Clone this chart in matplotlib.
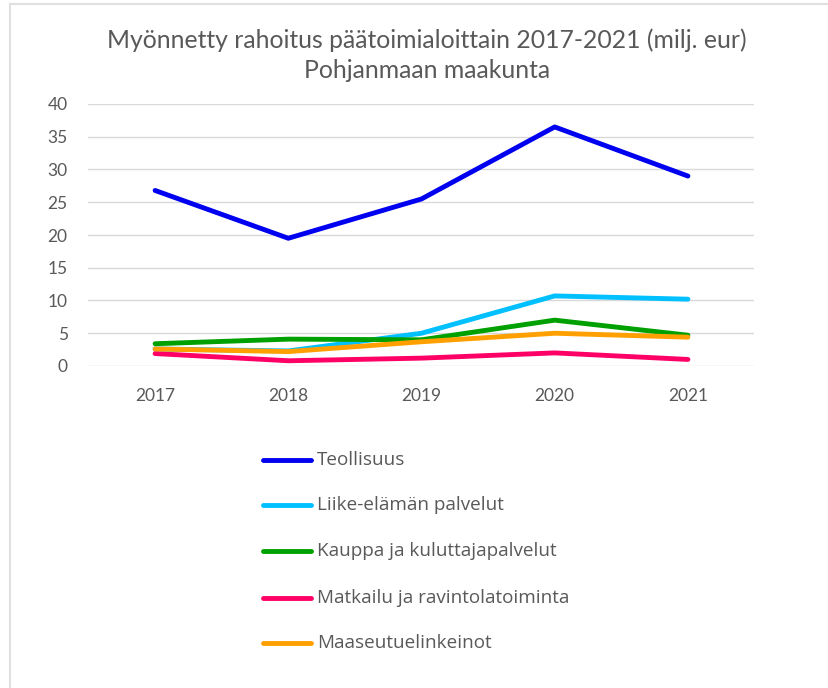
import matplotlib
matplotlib.use('Agg')
from matplotlib import pyplot as plt
from matplotlib.lines import Line2D

# Data
years = [2017, 2018, 2019, 2020, 2021]
teollisuus = [26.8, 19.5, 25.5, 36.5, 29.0]
liike = [2.6, 2.3, 5.0, 10.7, 10.2]
kauppa = [3.4, 4.1, 4.0, 7.0, 4.7]
matkailu = [1.9, 0.8, 1.2, 2.0, 1.0]
maaseutu = [2.6, 2.2, 3.7, 5.0, 4.4]

series_names = ['Teollisuus', 'Liike-elämän palvelut', 'Kauppa ja kuluttajapalvelut',
                'Matkailu ja ravintolatoiminta', 'Maaseutuelinkeinot']
series = [teollisuus, liike, kauppa, matkailu, maaseutu]
colors = ['#0000f0', '#00c0ff', '#00a000', '#ff0066', '#ffa000']
# drawing order so that overlaps look like the original
draw_order = [1, 3, 4, 2, 0]

text_col = '#595959'
plt.rcParams['font.family'] = ['Lato', 'DejaVu Sans']

fig = plt.figure(figsize=(8.29, 6.88), dpi=100)
ax = fig.add_axes([88.5 / 829, 1 - 366 / 688, 666 / 829, 262 / 688])

for i in draw_order:
    ax.plot(years, series[i], color=colors[i], lw=3.5, solid_capstyle='round',
            solid_joinstyle='round', zorder=3 + i * 0.1)

ax.set_xlim(2016.5, 2021.5)
ax.set_ylim(0, 40)
ax.set_yticks(range(0, 41, 5))
ax.set_xticks(years)
ax.grid(axis='y', color='#d9d9d9', lw=1)
ax.tick_params(length=0, labelsize=12.5, labelcolor=text_col)
ax.tick_params(axis='y', pad=15)
ax.tick_params(axis='x', pad=16)
for s in ax.spines.values():
    s.set_visible(False)
ax.set_axisbelow(True)

fig.text(427 / 829, 1 - 40 / 688, 'Myönnetty rahoitus päätoimialoittain 2017-2021 (milj. eur)',
         ha='center', va='center', fontsize=17.8, color=text_col)
fig.text(427 / 829, 1 - 70 / 688, 'Pohjanmaan maakunta',
         ha='center', va='center', fontsize=17.8, color=text_col)

# legend drawn as lines + texts in figure coords
leg_y = [460, 505, 551, 598, 643]
for i, name in enumerate(series_names):
    y = 1 - leg_y[i] / 688
    fig.add_artist(Line2D([263 / 829, 311 / 829], [y, y], color=colors[i], lw=3.5,
                          solid_capstyle='round'))
    fig.text(317 / 829, y, name, ha='left', va='center', fontsize=13.6,
             color=text_col, family=['Open Sans', 'DejaVu Sans'])

# frame of the chart box
fig.add_artist(Line2D([10 / 829, 10 / 829], [0, 1 - 4 / 688], color='#e0e0e0', lw=1.5))
fig.add_artist(Line2D([10 / 829, 1], [1 - 4 / 688, 1 - 4 / 688], color='#e0e0e0', lw=1.5))

fig.savefig('out.png', dpi=100)
